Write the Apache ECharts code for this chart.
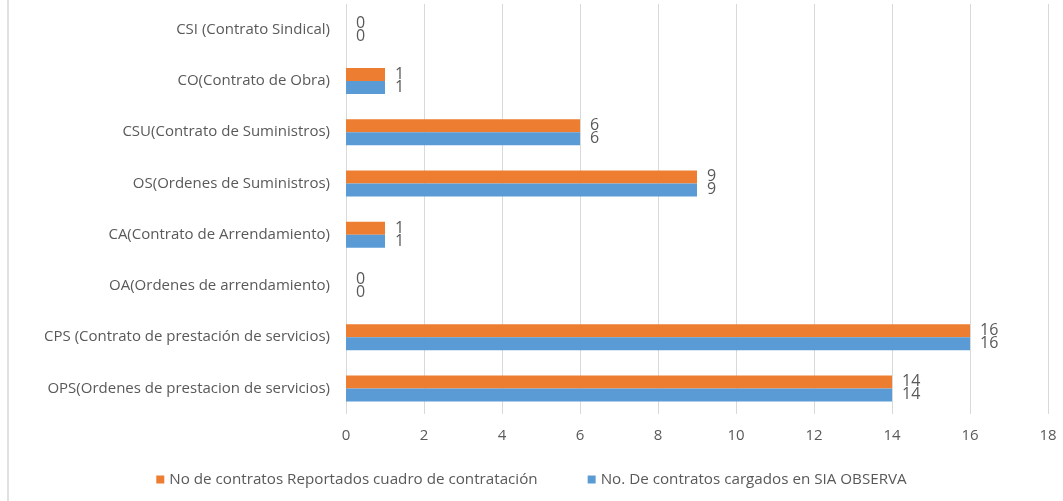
<!DOCTYPE html>
<html><head><meta charset="utf-8">
<script src="https://cdn.jsdelivr.net/npm/echarts@6/dist/echarts.min.js"></script>
<style>html,body{margin:0;padding:0;background:#fff}#c{width:1063px;height:501px}</style>
</head><body><div id="c"></div>
<script>
const categories = [
  "OPS(Ordenes de prestacion de servicios)",
  "CPS (Contrato de prestación de servicios)",
  "OA(Ordenes de arrendamiento)",
  "CA(Contrato de Arrendamiento)",
  "OS(Ordenes de Suministros)",
  "CSU(Contrato de Suministros)",
  "CO(Contrato de Obra)",
  "CSI (Contrato Sindical)"
];
const reportados = [14, 16, 0, 1, 9, 6, 1, 0];
const cargados = [14, 16, 0, 1, 9, 6, 1, 0];
const seriesNames = ["No de contratos Reportados cuadro de contratación", "No. De contratos cargados en SIA OBSERVA"];
const xTicks = {min: 0, max: 18, interval: 2};

const font = "Open Sans";
const txt = "#595959";
const chart = echarts.init(document.getElementById('c'));
const lbl = {show: true, position: 'right', distance: 10, color: txt, fontFamily: font, fontSize: 16, lineHeight: 15};
chart.setOption({
  animation: false,
  textStyle: {fontFamily: font},
  grid: {left: 346, right: 15, top: 4, bottom: 87, containLabel: false},
  legend: {
    bottom: 9, left: 'center', itemWidth: 8, itemHeight: 8, itemGap: 50, icon: 'rect',
    data: seriesNames,
    textStyle: {color: txt, fontSize: 15.2, fontFamily: font}
  },
  xAxis: {
    type: 'value', min: xTicks.min, max: xTicks.max, interval: xTicks.interval,
    axisLine: {show: false}, axisTick: {show: false},
    axisLabel: {color: txt, fontSize: 15, margin: 14, fontFamily: font},
    splitLine: {lineStyle: {color: '#D9D9D9', width: 1}}
  },
  yAxis: {
    type: 'category', data: categories,
    axisLine: {show: false}, axisTick: {show: false},
    axisLabel: {color: txt, fontSize: 15, margin: 16, fontFamily: font}
  },
  series: [
    {name: seriesNames[0], type: 'bar', data: reportados, barWidth: 13, barGap: '0%',
     itemStyle: {color: '#ED7D31'}, label: lbl},
    {name: seriesNames[1], type: 'bar', data: cargados, barWidth: 13, barGap: '0%',
     itemStyle: {color: '#5B9BD5'}, label: lbl}
  ],
  graphic: [{type: 'line', shape: {x1: 8, y1: 0, x2: 8, y2: 501}, style: {stroke: '#D9D9D9', lineWidth: 1.5}}]
});
</script></body></html>
